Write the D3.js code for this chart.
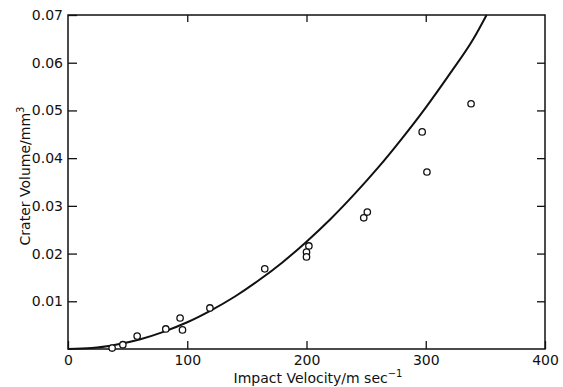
<!DOCTYPE html>
<html>
<head>
<meta charset="utf-8">
<script src="https://cdn.jsdelivr.net/npm/d3@7"></script>
<style>
  body { margin: 0; background: #fff; }
  svg text { font-family: "DejaVu Sans", sans-serif; fill: #111; }
</style>
</head>
<body>
<script>
// measured points: impact velocity (m/s) vs crater volume (mm^3)
const velocity = [37, 46, 58, 82, 94, 96, 119, 165, 202, 200, 200, 251, 248, 297, 301, 338];
const volume = [0.0002, 0.0009, 0.0027, 0.0042, 0.0065, 0.004, 0.0086, 0.0168, 0.0216, 0.0203, 0.0193, 0.0287, 0.0275, 0.0455, 0.0371, 0.0514];

// fitted curve
const curveV = [0, 20, 40, 60, 80, 100, 120, 140, 160, 180, 200, 220, 240, 260, 280, 300, 320, 340, 351];
const curveY = [0, 0.0002, 0.0009, 0.002, 0.0036, 0.0056, 0.0081, 0.011, 0.0144, 0.0182, 0.0225, 0.0272, 0.0324, 0.038, 0.0441, 0.0506, 0.0576, 0.065, 0.07];

const xTicks = [0, 100, 200, 300, 400];
const yTicks = [0.01, 0.02, 0.03, 0.04, 0.05, 0.06, 0.07];

const w = 563, h = 387;
const mLeft = 68, mRight = 545, mTop = 15, mBottom = 349;

const x = d3.scaleLinear().domain([0, 400]).range([mLeft, mRight]);
const y = d3.scaleLinear().domain([0, 0.07]).range([mBottom, mTop]);

const svg = d3.select("body").append("svg")
    .attr("width", w)
    .attr("height", h);

// frame
svg.append("rect")
    .attr("x", mLeft).attr("y", mTop)
    .attr("width", mRight - mLeft).attr("height", mBottom - mTop)
    .attr("fill", "none").attr("stroke", "#111").attr("stroke-width", 1.5);

// inner ticks on all four sides
const tickStyle = (g) => {
    g.select(".domain").remove();
    g.selectAll(".tick line").attr("stroke", "#111").attr("stroke-width", 1.3);
};

svg.append("g")
    .attr("transform", `translate(0,${mBottom})`)
    .call(d3.axisBottom(x).tickValues(xTicks).tickSize(-8).tickPadding(6).tickFormat(d3.format("d")))
    .call(tickStyle)
    .call((g) => g.selectAll("text").attr("font-size", 14).attr("fill", "#111"));

svg.append("g")
    .attr("transform", `translate(0,${mTop})`)
    .call(d3.axisTop(x).tickValues([100, 200, 300]).tickSize(-7).tickFormat(""))
    .call(tickStyle);

svg.append("g")
    .attr("transform", `translate(${mLeft},0)`)
    .call(d3.axisLeft(y).tickValues(yTicks).tickSize(-9).tickPadding(5).tickFormat(d3.format(".2f")))
    .call(tickStyle)
    .call((g) => g.selectAll("text").attr("font-size", 14).attr("fill", "#111"));

svg.append("g")
    .attr("transform", `translate(${mRight},0)`)
    .call(d3.axisRight(y).tickValues(yTicks.slice(0, 6)).tickSize(-8).tickFormat(""))
    .call(tickStyle);

// curve
const line = d3.line()
    .x((d, i) => x(curveV[i]))
    .y((d) => y(d))
    .curve(d3.curveMonotoneX);

svg.append("path")
    .datum(curveY)
    .attr("d", line)
    .attr("fill", "none")
    .attr("stroke", "#111")
    .attr("stroke-width", 2);

// points
svg.selectAll("circle.pt")
    .data(velocity)
    .enter()
    .append("circle")
    .attr("class", "pt")
    .attr("cx", (d) => x(d))
    .attr("cy", (d, i) => y(volume[i]))
    .attr("r", 3.2)
    .attr("fill", "#fff")
    .attr("stroke", "#111")
    .attr("stroke-width", 1.3);

// axis titles
const xt = svg.append("text")
    .attr("x", 318).attr("y", 383)
    .attr("text-anchor", "middle")
    .attr("font-size", 14);
xt.append("tspan").text("Impact Velocity/m sec");
xt.append("tspan").attr("dy", -6).attr("font-size", 10).text("−1");

const yt = svg.append("text")
    .attr("transform", "translate(30,176) rotate(-90)")
    .attr("text-anchor", "middle")
    .attr("font-size", 14);
yt.append("tspan").text("Crater Volume/mm");
yt.append("tspan").attr("dy", -6).attr("font-size", 10).text("3");
</script>
</body>
</html>
